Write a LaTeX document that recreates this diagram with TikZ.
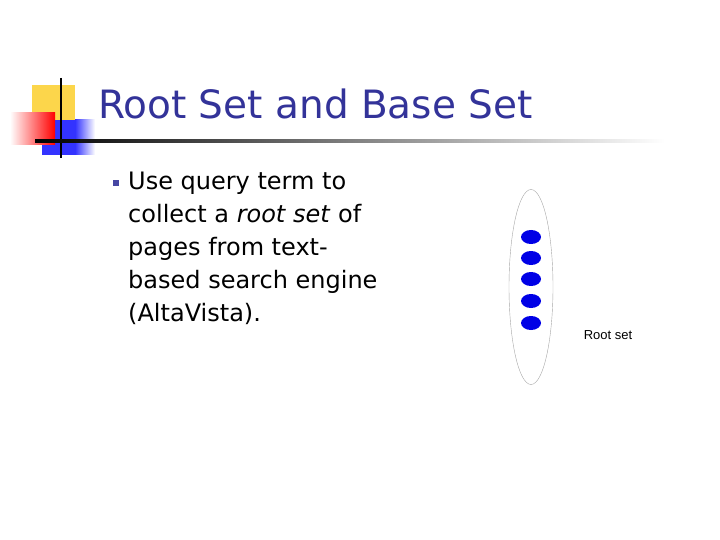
\documentclass[tikz,border=0pt]{standalone}
\usepackage{fontspec}
\setmainfont{DejaVu Sans}
\newfontfamily\arialfont{Liberation Sans}
\usetikzlibrary{shapes.geometric}
\definecolor{titleblue}{RGB}{51,51,153}
\definecolor{dotblue}{RGB}{0,0,230}
\tikzset{dot/.style={ellipse,fill=dotblue,minimum width=20pt,minimum height=14pt,inner sep=0pt},
body/.style={anchor=north west,font=\fontsize{24}{33}\selectfont,align=left,inner sep=0pt}}
\begin{document}
\begin{tikzpicture}[x=1pt,y=-1pt]
\useasboundingbox (0,0) rectangle (720,540);
% decoration
\fill[yellow!60!orange!70] (32,85) rectangle (75,125);
\fill[blue!80] (42,120) rectangle (75,155);
\shade[left color=blue!80,right color=white] (75,120) rectangle (95,155);
\shade[left color=white, right color=red] (10,113) rectangle (55,145);
\draw[line width=2pt] (61,78) -- (61,158);
\shade[left color=black,right color=white,draw=none] (35,140) rectangle (665,142.5);
\node[anchor=base west,text=titleblue,font=\fontsize{39}{41}\selectfont,inner sep=0pt] (title) at (98,119) {Root Set and Base Set};
\node[fill=titleblue!90,minimum size=6pt,inner sep=0pt] (bul) at (116,183) {};
\node[body] (txt) at (128,172) {Use query term to\\collect a \textit{root set} of\\pages from text-\\based search engine\\(AltaVista).};
\node[ellipse,draw=gray!70,minimum width=44pt,minimum height=195pt,inner sep=0pt] (set) at (531,287) {};
\foreach \i/\y in {1/237,2/258,3/279,4/301,5/323}
  \node[dot] (d\i) at (531,\y) {};
\node[font=\fontsize{13}{15}\selectfont\arialfont] (lbl) at (608,335) {Root set};
\end{tikzpicture}
\end{document}
